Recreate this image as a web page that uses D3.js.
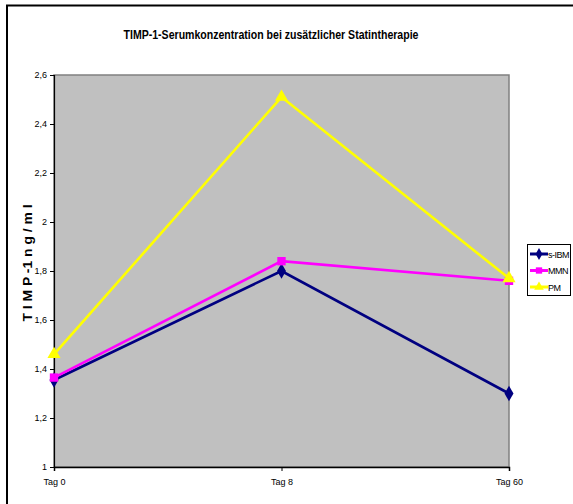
<!DOCTYPE html>
<html>
<head>
<meta charset="utf-8">
<script src="https://cdn.jsdelivr.net/npm/d3@7"></script>
<style>
  html, body { margin: 0; padding: 0; background: #fff; }
  svg { display: block; font-family: "Liberation Sans", Arial, sans-serif; }
</style>
</head>
<body>
<svg id="chart" width="573" height="504"></svg>
<script>
// Time points and serum TIMP-1 (ng/ml) per patient group
const categories = ["Tag 0", "Tag 8", "Tag 60"];
const sIBM = [1.355, 1.80, 1.30];
const MMN  = [1.365, 1.84, 1.76];
const PM   = [1.46, 2.51, 1.77];
const yTicks = [1, 1.2, 1.4, 1.6, 1.8, 2, 2.2, 2.4, 2.6];
const seriesNames = ["s-IBM", "MMN", "PM"];

const series = [
  { name: seriesNames[0], values: sIBM, color: "#000080", marker: "diamond" },
  { name: seriesNames[1], values: MMN,  color: "#FF00FF", marker: "square" },
  { name: seriesNames[2], values: PM,   color: "#FFFF00", marker: "triangle" }
];

const svg = d3.select("#chart");
const plot = { left: 54, right: 509, top: 75, bottom: 467 };

// Outer chart frame (extends beyond the right and bottom edges)
svg.append("rect")
  .attr("x", 7).attr("y", 5.5).attr("width", 600).attr("height", 600)
  .attr("fill", "#fff").attr("stroke", "#000").attr("stroke-width", 2);

const x = d3.scalePoint().domain(categories).range([plot.left, plot.right]);
const y = d3.scaleLinear().domain([1, 2.6]).range([plot.bottom, plot.top]);

// Plot area
svg.append("rect")
  .attr("x", plot.left).attr("y", plot.top)
  .attr("width", plot.right - plot.left).attr("height", plot.bottom - plot.top)
  .attr("fill", "#C0C0C0").attr("stroke", "#808080").attr("stroke-width", 1.5);

// Title
svg.append("text")
  .attr("x", 271).attr("y", 39)
  .attr("text-anchor", "middle")
  .attr("font-size", 12.5).attr("font-weight", "bold")
  .attr("textLength", 295).attr("lengthAdjust", "spacingAndGlyphs")
  .text("TIMP-1-Serumkonzentration bei zusätzlicher Statintherapie");

// Y axis
const fmt = d => String(d).replace(".", ",");
const yAxis = d3.axisLeft(y).tickValues(yTicks).tickFormat(fmt).tickSize(4).tickPadding(3);
const gy = svg.append("g").attr("transform", `translate(${plot.left},0)`).call(yAxis);
gy.select(".domain").attr("stroke", "#000").attr("stroke-width", 1.2);
gy.selectAll(".tick line").attr("stroke", "#000");
gy.selectAll(".tick text").attr("font-size", 9).attr("fill", "#000")
  .attr("font-family", "'Liberation Sans Narrow', 'Liberation Sans', Arial, sans-serif");

// X axis
const xAxis = d3.axisBottom(x).tickSize(4).tickPadding(8);
const gx = svg.append("g").attr("transform", `translate(0,${plot.bottom})`).call(xAxis);
gx.select(".domain").attr("stroke", "#000").attr("stroke-width", 1.5);
gx.selectAll(".tick line").attr("stroke", "#000");
gx.selectAll(".tick text").attr("font-size", 9).attr("fill", "#000")
  .attr("font-family", "'Liberation Sans Narrow', 'Liberation Sans', Arial, sans-serif");

// Y axis title
svg.append("text")
  .attr("transform", "translate(32,263) rotate(-90)")
  .attr("text-anchor", "middle")
  .attr("font-size", 12.5).attr("font-weight", "bold")
  .attr("textLength", 117).attr("lengthAdjust", "spacingAndGlyphs")
  .text("T I M P -1  n g / m l");

const symbolFor = m => m === "diamond" ? d3.symbolDiamond : m === "square" ? d3.symbolSquare : d3.symbolTriangle;
const sizeFor = m => m === "diamond" ? 70 : m === "square" ? 70 : 75;

const line = d3.line().x((d, i) => x(categories[i])).y(d => y(d));

series.forEach(s => {
  svg.append("path")
    .attr("d", line(s.values))
    .attr("fill", "none").attr("stroke", s.color).attr("stroke-width", 2.6);
  svg.selectAll(null).data(s.values).enter().append("path")
    .attr("transform", (d, i) => `translate(${x(categories[i])},${y(d)})`)
    .attr("d", d3.symbol().type(symbolFor(s.marker)).size(sizeFor(s.marker)))
    .attr("fill", s.color);
});

// Legend
const lg = svg.append("g");
lg.append("rect").attr("x", 527.5).attr("y", 244.5).attr("width", 43).attr("height", 51)
  .attr("fill", "#fff").attr("stroke", "#000").attr("stroke-width", 1);
series.forEach((s, i) => {
  const ly = 254 + i * 16.5;
  lg.append("line").attr("x1", 530).attr("x2", 548).attr("y1", ly).attr("y2", ly)
    .attr("stroke", s.color).attr("stroke-width", 3);
  lg.append("path").attr("transform", `translate(539,${ly})`)
    .attr("d", d3.symbol().type(symbolFor(s.marker)).size(40))
    .attr("fill", s.color);
  lg.append("text").attr("x", 548).attr("y", ly + 3.5)
    .attr("font-size", 9)
    .attr("font-family", "'Liberation Sans Narrow', 'Liberation Sans', Arial, sans-serif")
    .attr("letter-spacing", -0.5)
    .text(s.name);
});
</script>
</body>
</html>
